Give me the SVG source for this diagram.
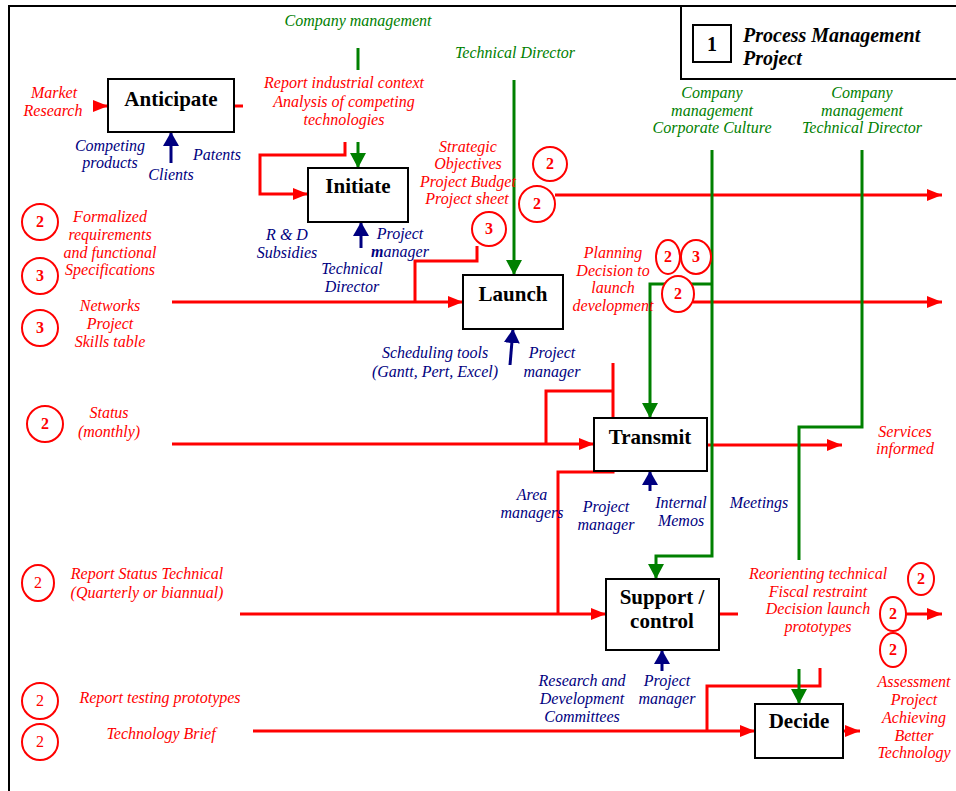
<svg xmlns="http://www.w3.org/2000/svg" width="956" height="791" viewBox="0 0 956 791">
<style>
text{font-family:"Liberation Serif","Times New Roman",serif;}
.node rect{fill:#fff;stroke:#000;stroke-width:2;}
.nt{font-size:21px;font-weight:bold;text-anchor:middle;fill:#000;}
.r{fill:#ff0000;font-size:16px;font-style:italic;text-anchor:middle;}
.g{fill:#008000;font-size:16px;font-style:italic;text-anchor:middle;}
.b{fill:#000080;font-size:16px;font-style:italic;text-anchor:middle;}
.rl{fill:none;stroke:#ff0000;stroke-width:3;}
.gl{fill:none;stroke:#008000;stroke-width:3;}
.bl{fill:none;stroke:#000080;stroke-width:3;}
.c{fill:#fff;stroke:#ff0000;stroke-width:2;}
.cn{fill:#ff0000;font-size:16px;font-weight:bold;text-anchor:middle;}
.cr{fill:#ff0000;font-size:16px;text-anchor:middle;}
</style>
<defs>
<marker id="ra" markerUnits="userSpaceOnUse" markerWidth="16" markerHeight="12" refX="15" refY="6" orient="auto"><path d="M0,0 L15,6 L0,12 z" fill="#ff0000"/></marker>
<marker id="ga" markerUnits="userSpaceOnUse" markerWidth="16" markerHeight="16" refX="15" refY="8" orient="auto"><path d="M0,0 L15,8 L0,16 z" fill="#008000"/></marker>
<marker id="ba" markerUnits="userSpaceOnUse" markerWidth="15" markerHeight="16" refX="14" refY="8" orient="auto"><path d="M0,0 L14,8 L0,16 z" fill="#000080"/></marker>
</defs>
<rect width="956" height="791" fill="#fff"/>
<g id="frame" fill="none" stroke="#000" stroke-width="2">
<path d="M9,791 V6 H956"/>
<path d="M681,6 V79 H956"/>
<rect x="693" y="25" width="38" height="37"/>
</g>
<g id="title">
<text x="712" y="51" font-size="20" font-weight="bold" text-anchor="middle">1</text>
<text x="743" y="42" font-size="20" font-weight="bold" font-style="italic">Process Management</text>
<text x="743" y="65" font-size="20" font-weight="bold" font-style="italic">Project</text>
</g>
<g id="connectors">
<path class="rl" d="M93,106 H108" marker-end="url(#ra)"/>
<path class="rl" d="M234,106 H243"/>
<path class="rl" d="M345,142 V155 H260 V194 H308" marker-end="url(#ra)"/>
<path class="rl" d="M555,195 H942" marker-end="url(#ra)"/>
<path class="rl" d="M172,302 H463" marker-end="url(#ra)"/>
<path class="rl" d="M415,302 V261 H477 V246"/>
<path class="rl" d="M693,302 H942" marker-end="url(#ra)"/>
<path class="rl" d="M172,444 H594" marker-end="url(#ra)"/>
<path class="rl" d="M546,444 V391 H613"/>
<path class="rl" d="M613,363 V472 H558 V614"/>
<path class="rl" d="M240,614 H606" marker-end="url(#ra)"/>
<path class="rl" d="M707,445 H842" marker-end="url(#ra)"/>
<path class="rl" d="M719,614 H738"/>
<path class="rl" d="M906,614 H942" marker-end="url(#ra)"/>
<path class="rl" d="M253,731 H755" marker-end="url(#ra)"/>
<path class="rl" d="M707,731 V686 H820 V668"/>
<path class="rl" d="M843,731 H860" marker-end="url(#ra)"/>
<path class="gl" d="M358,48 V70"/>
<path class="gl" d="M358,142 V168" marker-end="url(#ga)"/>
<path class="gl" d="M514,80 V275" marker-end="url(#ga)"/>
<path class="gl" d="M712,150 V556 H656 V579" marker-end="url(#ga)"/>
<path class="gl" d="M712,284 H650 V418" marker-end="url(#ga)"/>
<path class="gl" d="M862,150 V427 H799 V560"/>
<path class="gl" d="M799,669 V704" marker-end="url(#ga)"/>
<path class="bl" d="M171,163 V132" marker-end="url(#ba)"/>
<path class="bl" d="M361,248 V222" marker-end="url(#ba)"/>
<path class="bl" d="M510,365 L513,329" marker-end="url(#ba)"/>
<path class="bl" d="M650,491 V471" marker-end="url(#ba)"/>
<path class="bl" d="M662,671 V650" marker-end="url(#ba)"/>
</g>
<g id="anticipate" class="node"><rect x="108" y="79" width="126" height="53"/><text class="nt" x="171" y="106">Anticipate</text></g>
<g id="initiate" class="node"><rect x="308" y="168" width="100" height="54"/><text class="nt" x="358" y="193">Initiate</text></g>
<g id="launch" class="node"><rect x="463" y="275" width="100" height="54"/><text class="nt" x="513" y="301">Launch</text></g>
<g id="transmit" class="node"><rect x="594" y="418" width="113" height="53"/><text class="nt" x="650" y="444">Transmit</text></g>
<g id="support" class="node"><rect x="606" y="579" width="113" height="71"/><text class="nt" x="662" y="604">Support /</text><text class="nt" x="662" y="628">control</text></g>
<g id="decide" class="node"><rect x="755" y="704" width="88" height="54"/><text class="nt" x="799" y="728">Decide</text></g>
<g id="circles">
<circle class="c" cx="550" cy="164" r="17"/><text class="cn" x="550" y="169">2</text>
<ellipse class="c" cx="537" cy="204" rx="18" ry="18"/><text class="cn" x="537" y="209">2</text>
<circle class="c" cx="489" cy="229" r="17"/><text class="cn" x="489" y="234">3</text>
<ellipse class="c" cx="668" cy="257" rx="12" ry="17"/><text class="cn" x="668" y="262">2</text>
<ellipse class="c" cx="696" cy="257" rx="15" ry="17"/><text class="cn" x="696" y="262">3</text>
<ellipse class="c" cx="678" cy="294" rx="16" ry="18"/><text class="cn" x="678" y="299">2</text>
<ellipse class="c" cx="921" cy="579" rx="13" ry="16"/><text class="cn" x="921" y="584">2</text>
<ellipse class="c" cx="893" cy="614" rx="13" ry="17"/><text class="cn" x="893" y="619">2</text>
<ellipse class="c" cx="893" cy="650" rx="13" ry="17"/><text class="cn" x="893" y="655">2</text>
<circle class="c" cx="40" cy="222" r="18"/><text class="cn" x="40" y="227">2</text>
<circle class="c" cx="40" cy="276" r="18"/><text class="cn" x="40" y="281">3</text>
<circle class="c" cx="40" cy="328" r="18"/><text class="cn" x="40" y="333">3</text>
<circle class="c" cx="45" cy="424" r="18"/><text class="cn" x="45" y="429">2</text>
<ellipse class="c" cx="38" cy="583" rx="16" ry="18"/><text class="cr" x="38" y="588">2</text>
<circle class="c" cx="40" cy="701" r="18"/><text class="cr" x="40" y="706">2</text>
<circle class="c" cx="40" cy="742" r="18"/><text class="cr" x="40" y="747">2</text>
</g>
<g id="labels">
<text class="g" x="358" y="26">Company management</text>
<text class="g" x="515" y="58">Technical Director</text>
<text class="g" x="712" y="98">Company</text><text class="g" x="712" y="116">management</text><text class="g" x="712" y="133">Corporate Culture</text>
<text class="g" x="862" y="98">Company</text><text class="g" x="862" y="116">management</text><text class="g" x="862" y="133">Technical Director</text>
<text class="r" x="54" y="98">Market</text><text class="r" x="53" y="116">Research</text>
<text class="r" x="344" y="88">Report industrial context</text><text class="r" x="344" y="107">Analysis of competing</text><text class="r" x="344" y="125">technologies</text>
<text class="r" x="468" y="152">Strategic</text><text class="r" x="468" y="169">Objectives</text><text class="r" x="468" y="187">Project Budget</text><text class="r" x="467" y="204">Project sheet</text>
<text class="r" x="110" y="222">Formalized</text><text class="r" x="110" y="240">requirements</text><text class="r" x="110" y="258">and functional</text><text class="r" x="110" y="275">Specifications</text>
<text class="r" x="110" y="311">Networks</text><text class="r" x="110" y="329">Project</text><text class="r" x="110" y="347">Skills table</text>
<text class="r" x="613" y="258">Planning</text><text class="r" x="613" y="276">Decision to</text><text class="r" x="613" y="293">launch</text><text class="r" x="613" y="311">development</text>
<text class="r" x="109" y="418">Status</text><text class="r" x="109" y="437">(monthly)</text>
<text class="r" x="905" y="437">Services</text><text class="r" x="905" y="454">informed</text>
<text class="r" x="147" y="579">Report Status Technical</text><text class="r" x="147" y="598">(Quarterly or biannual)</text>
<text class="r" x="818" y="579">Reorienting technical</text><text class="r" x="818" y="597">Fiscal restraint</text><text class="r" x="818" y="614">Decision launch</text><text class="r" x="818" y="632">prototypes</text>
<text class="r" x="160" y="703">Report testing prototypes</text>
<text class="r" x="161" y="739">Technology Brief</text>
<text class="r" x="914" y="687">Assessment</text><text class="r" x="914" y="705">Project</text><text class="r" x="914" y="723">Achieving</text><text class="r" x="914" y="741">Better</text><text class="r" x="914" y="758">Technology</text>
<text class="b" x="110" y="151">Competing</text><text class="b" x="110" y="168">products</text>
<text class="b" x="217" y="160">Patents</text>
<text class="b" x="171" y="180">Clients</text>
<text class="b" x="287" y="240">R &amp; D</text><text class="b" x="287" y="258">Subsidies</text>
<text class="b" x="400" y="239">Project</text><text class="b" x="400" y="257"><tspan font-weight="bold">m</tspan>anager</text>
<text class="b" x="352" y="274">Technical</text><text class="b" x="352" y="292">Director</text>
<text class="b" x="435" y="358">Scheduling tools</text><text class="b" x="435" y="377">(Gantt, Pert, Excel)</text>
<text class="b" x="552" y="358">Project</text><text class="b" x="552" y="377">manager</text>
<text class="b" x="532" y="500">Area</text><text class="b" x="532" y="518">managers</text>
<text class="b" x="606" y="512">Project</text><text class="b" x="606" y="530">manager</text>
<text class="b" x="681" y="508">Internal</text><text class="b" x="681" y="526">Memos</text>
<text class="b" x="759" y="508">Meetings</text>
<text class="b" x="582" y="686">Research and</text><text class="b" x="582" y="704">Development</text><text class="b" x="582" y="722">Committees</text>
<text class="b" x="667" y="686">Project</text><text class="b" x="667" y="704">manager</text>
</g>
</svg>
